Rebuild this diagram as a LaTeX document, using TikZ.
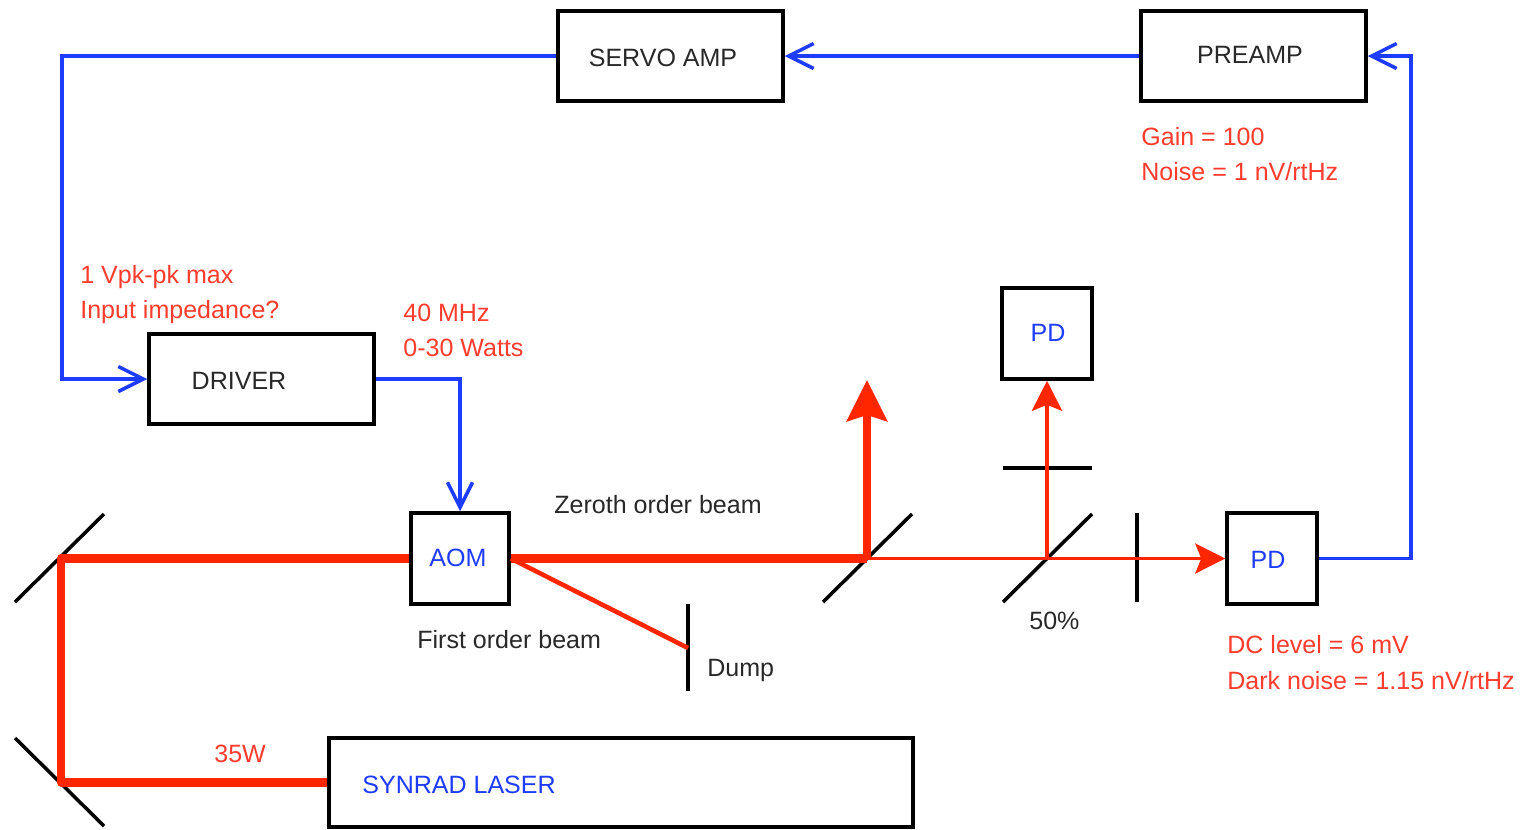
\documentclass[tikz,border=0pt]{standalone}
\usepackage{fontspec}
\setmainfont{Liberation Sans}
\usetikzlibrary{arrows.meta}
\definecolor{beamred}{RGB}{255,38,0}
\definecolor{noteRed}{RGB}{255,60,45}
\definecolor{wireblue}{RGB}{30,60,255}
\definecolor{labelgrey}{RGB}{40,40,40}
\tikzset{
    unit/.style={draw=black, line width=2pt, inner sep=0pt},
    boxtext/.style={text=labelgrey, inner sep=0pt, font=\fontsize{14.25}{16}\selectfont},
    bluetext/.style={boxtext, text=wireblue},
    note/.style={boxtext, text=noteRed, anchor=west},
    greynote/.style={boxtext, anchor=west},
    optic/.style={line width=2pt, black},
    wire/.style={line width=2pt, wireblue},
    wirehead/.style={-{Straight Barb[length=0.5cm, width=0.5cm]}},
    beam/.style={line width=4.6pt, beamred},
    thinbeam/.style={line width=1.8pt, beamred},
    midbeam/.style={line width=2.6pt, beamred}
}
\begin{document}
\begin{tikzpicture}[x=0.02cm, y=-0.02cm]
    \useasboundingbox (0, 0) rectangle (1520, 829);
    % boxes
    \node[unit, minimum width=4.5cm, minimum height=1.8cm] (servo) at (670.5, 56){};
    \node[unit, minimum width=4.5cm, minimum height=1.8cm] (preamp) at (1253.5, 56){};
    \node[unit, minimum width=4.5cm, minimum height=1.8cm] (driver) at (261.5, 379){};
    \node[unit, minimum width=1.96cm, minimum height=1.82cm] (aom) at (460, 558.5){};
    \node[unit, minimum width=1.8cm, minimum height=1.82cm] (pdtop) at (1047, 333.5){};
    \node[unit, minimum width=1.8cm, minimum height=1.82cm] (pdright) at (1272, 558.5){};
    \node[unit, minimum width=11.68cm, minimum height=1.78cm] (laser) at (621, 782.5){};
    % box labels
    \node[boxtext] (servotext) at (663, 58){SERVO AMP};
    \node[boxtext] (preamptext) at (1250, 55){PREAMP};
    \node[boxtext] (drivertext) at (239, 381){DRIVER};
    \node[bluetext] (aomtext) at (458, 558){AOM};
    \node[bluetext] (pdtoptext) at (1048, 333){PD};
    \node[bluetext] (pdrighttext) at (1268, 560){PD};
    \node[bluetext, anchor=west] (lasertext) at (362, 785){SYNRAD LASER};
    % notes
    \node[note] (gain) at (1141, 137){Gain = 100};
    \node[note] (noise) at (1141, 172){Noise = 1 nV/rtHz};
    \node[note] (vpk) at (80, 277){1 Vpk-pk max};
    \node[note] (impedance) at (80, 312){Input impedance?};
    \node[note] (mhz) at (403, 313){40 MHz};
    \node[note] (watts) at (403, 348){0-30 Watts};
    \node[note] (dclevel) at (1227, 645){DC level = 6 mV};
    \node[note] (darknoise) at (1227, 681){Dark noise = 1.15 nV/rtHz};
    \node[note] (power) at (214, 754){35W};
    \node[greynote] (zeroth) at (554, 505){Zeroth order beam};
    \node[greynote] (first) at (417, 640){First order beam};
    \node[greynote] (dumptext) at (707, 670){Dump};
    \node[greynote] (split) at (1029, 621){50\%};
    % mirrors and stops
    \draw[optic] (15, 602) -- (104, 514);
    \draw[optic] (15, 738) -- (104, 826);
    \draw[optic] (823, 602) -- (912, 514);
    \draw[optic] (1003, 602) -- (1092, 514);
    \draw[optic] (1003, 468) -- (1092, 468);
    \draw[optic] (1137, 513) -- (1137, 602);
    \draw[optic] (688, 604) -- (688, 691);
    \coordinate (mirrorlow) at (61, 782.5);
    \coordinate (mirrorhigh) at (61, 558.5);
    \coordinate (pickoff) at (867, 558.5);
    \coordinate (splitter) at (1047, 558.5);
    \coordinate (dump) at (688, 648);
    \coordinate (zerothend) at (867, 380);
    % beams
    \draw[beam, line join=round] (laser.west) -- (mirrorlow) -- (mirrorhigh) -- (aom.west);
    \draw[beam] (aom.east) -- (pickoff);
    \draw[midbeam] (aom.east) -- (dump);
    \draw[beam, -{Stealth[length=0.82cm, width=0.8cm, inset=0.12cm]}] (pickoff) -- (zerothend);
    \draw[thinbeam, -{Stealth[length=0.6cm, width=0.6cm, inset=0.12cm]}] (pickoff) -- (pdright.west);
    \draw[midbeam, -{Stealth[length=0.6cm, width=0.6cm, inset=0.12cm]}] (splitter) -- (pdtop.south);
    % electronics
    \draw[wire, wirehead] (servo.west) -| (62, 379) -- (driver.west);
    \draw[wire, wirehead] (driver.east) -| (aom.north);
    \draw[wire, wirehead] (preamp.west) -- (servo.east);
    \draw[wire, wirehead] (pdright.east) -| (1411, 56) -- (preamp.east);
\end{tikzpicture}
\end{document}
